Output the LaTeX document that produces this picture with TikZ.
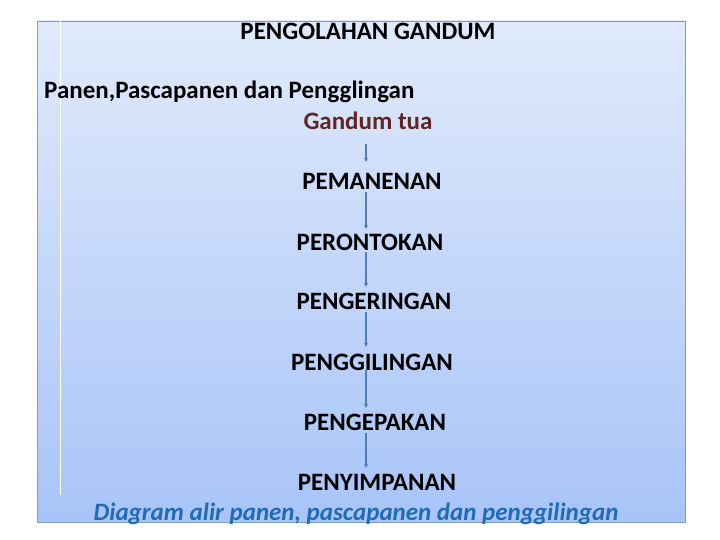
\documentclass[tikz,border=0pt]{standalone}
\usepackage{fontspec}
\setmainfont{Carlito}
\usetikzlibrary{arrows.meta}
\definecolor{bgtop}{HTML}{E0EAFB}
\definecolor{bgbot}{HTML}{A8C4F8}
\definecolor{frameblue}{HTML}{7F9CC4}
\definecolor{arrblue}{HTML}{4F7FB8}
\definecolor{maroon}{HTML}{632523}
\definecolor{capblue}{HTML}{1F6CB4}
\tikzset{
  stage/.style={inner sep=0pt, text height=16pt, text depth=0pt, font=\fontsize{25}{29}\selectfont\bfseries},
  flowarrow/.style={draw=arrblue, line width=1.2pt, -{Stealth[length=4pt,width=4pt]}},
}
\begin{document}
\begin{tikzpicture}[x=1pt,y=-1pt]
\useasboundingbox (0,0) rectangle (720,540);
\shade[top color=bgtop, bottom color=bgbot] (37,21) rectangle (685,522);
\draw[frameblue, line width=0.8pt] (37,21) rectangle (685,522);
\draw[white, line width=1pt] (60,21) -- (60,495);
\coordinate (col) at (366,0);
\node[stage] (title) at (368,32) {PENGOLAHAN GANDUM};
\node[stage, anchor=west] (sub) at (44,91) {Panen,Pascapanen dan Pengglingan};
\node[stage, text=maroon] (gandum) at (368,122) {Gandum tua};
\node[stage] (s1) at (372,182) {PEMANENAN};
\node[stage] (s2) at (370,242) {PERONTOKAN};
\node[stage] (s3) at (374,301) {PENGERINGAN};
\node[stage] (s4) at (372,362) {PENGGILINGAN};
\node[stage] (s5) at (375,422) {PENGEPAKAN};
\node[stage] (s6) at (377,482) {PENYIMPANAN};
\node[stage, text=capblue, font=\fontsize{25}{29}\selectfont\bfseries\itshape] (cap) at (356,512) {Diagram alir panen, pascapanen dan penggilingan};
\draw[flowarrow, shorten <=14pt, shorten >=12pt] (gandum.south -| col) -- (s1.north -| col);
\draw[flowarrow, shorten <=2pt, shorten >=5pt] (s1.south -| col) -- (s2.north -| col);
\draw[flowarrow, shorten <=2pt, shorten >=6pt] (s2.south -| col) -- (s3.north -| col);
\draw[flowarrow, shorten <=3pt, shorten >=7pt] (s3.south -| col) -- (s4.north -| col);
\draw[flowarrow, shorten <=0pt, shorten >=6pt] (s4.south -| col) -- (s5.north -| col);
\draw[flowarrow, shorten <=3pt, shorten >=6pt] (s5.south -| col) -- (s6.north -| col);
\end{tikzpicture}
\end{document}
